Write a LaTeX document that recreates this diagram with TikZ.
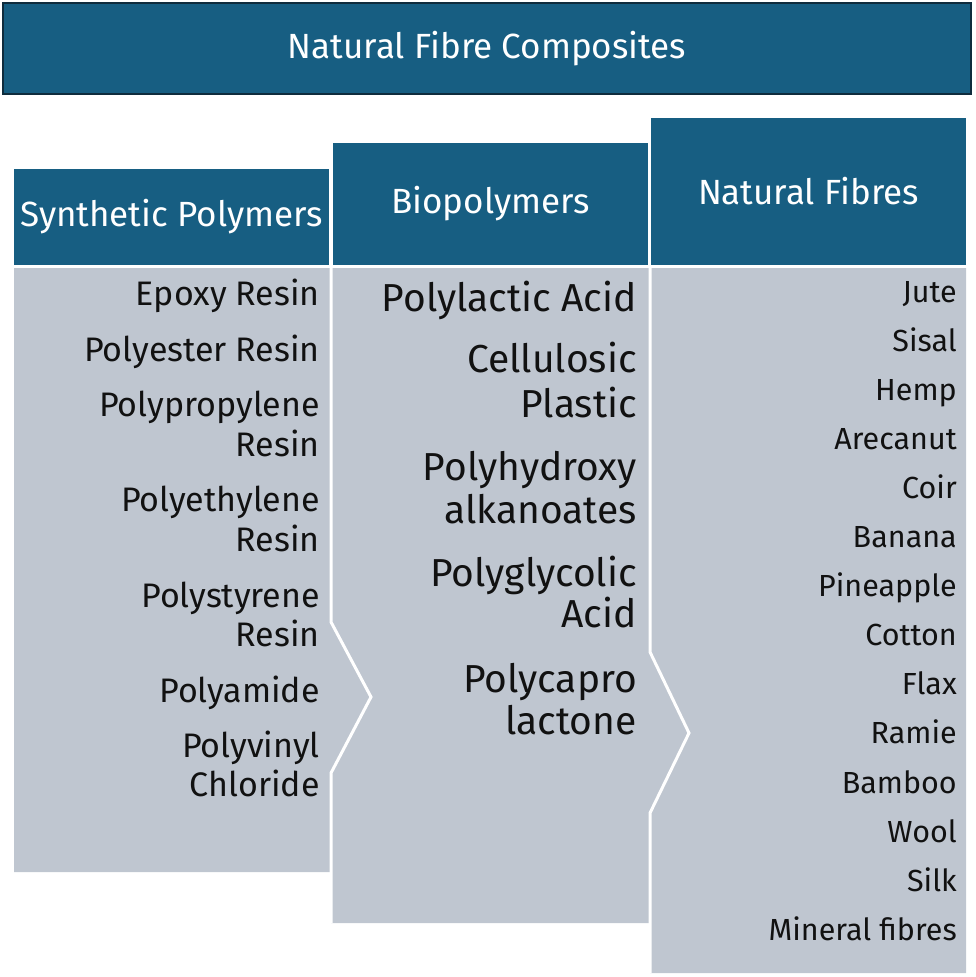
\documentclass[tikz,border=0pt]{standalone}
\usepackage{fontspec}
\setmainfont{Fira Sans}
\definecolor{hdrblue}{HTML}{175E82}
\definecolor{panelgray}{HTML}{BFC6D0}
\definecolor{titleline}{HTML}{0F2C3D}
\definecolor{ink}{HTML}{111111}
\begin{document}
\begin{tikzpicture}[x=1pt,y=-1pt,
  hdrbox/.style={fill=hdrblue,text=white,inner sep=0pt,font=\fontsize{35}{42}\selectfont},
  seam/.style={draw=white,line width=3pt,line join=miter},
  synitem/.style={anchor=base east,text=ink,inner sep=0pt,font=\fontsize{34}{40}\selectfont},
  bioitem/.style={anchor=base east,text=ink,inner sep=0pt,font=\fontsize{39}{46}\selectfont},
  natitem/.style={anchor=base east,text=ink,inner sep=0pt,font=\fontsize{30.5}{36}\selectfont}]
\useasboundingbox (0,0) rectangle (975,977);
% title bar
\node[hdrbox,draw=titleline,line width=2.5pt,minimum width=968pt,minimum height=91pt] (title)
  at (487,48.5) {Natural Fibre Composites};
% column headers
\node[hdrbox,minimum width=315pt,minimum height=96pt] (synhdr) at (171.5,217) {Synthetic Polymers};
\node[hdrbox,minimum width=315pt,minimum height=122pt] (biohdr) at (490.5,204) {Biopolymers};
\node[hdrbox,minimum width=315pt,minimum height=147pt] (nathdr) at (808.5,191.5) {Natural Fibres};
% panels with chevron joints
\fill[panelgray] (14,268) -- (331,268) -- (331,622) -- (371,697) -- (331,773) -- (331,872) -- (14,872) -- cycle;
\fill[panelgray] (331,268) -- (650,268) -- (650,652) -- (689,733) -- (650,813) -- (650,923)
  -- (331,923) -- (331,773) -- (371,697) -- (331,622) -- cycle;
\fill[panelgray] (650,268) -- (966,268) -- (966,973) -- (650,973) -- (650,813) -- (689,733) -- (650,652) -- cycle;
\draw[seam] (331,268) -- (331,622) -- (371,697) -- (331,773) -- (331,923);
\draw[seam] (650,268) -- (650,652) -- (689,733) -- (650,813) -- (650,973);
% synthetic polymers
\foreach \y/\t [count=\i] in {305/Epoxy Resin,361/Polyester Resin,416/Polypropylene,456/Resin,
  511/Polyethylene,551/Resin,607/Polystyrene,646/Resin,702/Polyamide,757/Polyvinyl,796/Chloride}
  \node[synitem] (syn-\i) at (320,\y) {\t};
% biopolymers
\foreach \y/\t [count=\i] in {311/Polylactic Acid,372/Cellulosic,417/Plastic,480/Polyhydroxy,
  523/alkanoates,586/Polyglycolic,627/Acid,692/Polycapro,734/lactone}
  \node[bioitem] (bio-\i) at (637,\y) {\t};
% natural fibres
\foreach \t [count=\i from 0] in {Jute,Sisal,Hemp,Arecanut,Coir,Banana,Pineapple,Cotton,
  Flax,Ramie,Bamboo,Wool,Silk,Mineral fibres}
  \node[natitem] (nat-\i) at (957,{302+49.1*\i}) {\t};
\end{tikzpicture}
\end{document}
